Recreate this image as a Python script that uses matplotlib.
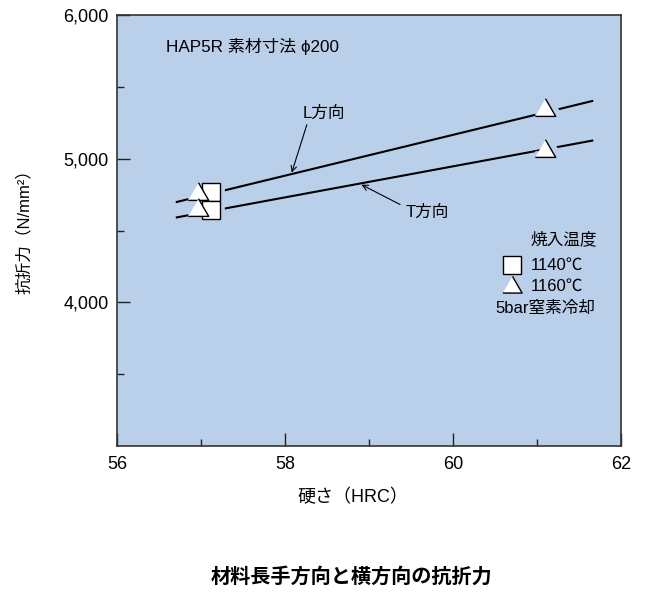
import matplotlib
matplotlib.use("Agg")
import matplotlib.pyplot as plt
from matplotlib.ticker import FixedLocator, FuncFormatter

plt.rcParams['font.family'] = ['Liberation Sans', 'Noto Sans CJK JP', 'DejaVu Sans']

# ---- data ----
hrc_1140 = [57.12, 57.12]
str_1140 = [4771, 4646]
hrc_1160 = [56.96, 56.96, 61.1, 61.1]
str_1160 = [4755, 4645, 5340, 5050]
L_line_x = [56.7, 61.67]
L_line_y = [4697, 5403]
T_line_x = [56.7, 61.67]
T_line_y = [4590, 5127]
x_major = [56, 58, 60, 62]
x_minor = [57, 59, 61]
y_major = [4000, 5000, 6000]
y_minor = [3500, 4500, 5500]

BG = '#bacfea'
tri = [(-1, -0.577), (1, -0.577), (0, 1.155)]

fig = plt.figure(figsize=(6.46, 5.94), dpi=100)
ax = fig.add_axes([117/646, 1-446/594, 504/646, 431/594])
ax.set_facecolor(BG)
ax.set_xlim(56, 62)
ax.set_ylim(3000, 6000)

ax.plot(L_line_x, L_line_y, color='black', lw=1.5, zorder=2, solid_capstyle='butt')
ax.plot(T_line_x, T_line_y, color='black', lw=1.5, zorder=2, solid_capstyle='butt')

# halos to cut the lines around the markers
ax.plot(hrc_1140, str_1140, ls='none', marker='s', ms=13.5, mfc=BG, mec=BG, mew=7, zorder=3)
ax.plot(hrc_1160, str_1160, ls='none', marker=tri, ms=17, mfc=BG, mec=BG, mew=9, zorder=3)
ax.plot(hrc_1140, str_1140, ls='none', marker='s', ms=13.5, mfc='white', mec='black', mew=1.0, zorder=4)
ax.plot(hrc_1160, str_1160, ls='none', marker=tri, ms=17, mfc='white', mec='black', mew=1.0, zorder=5)

ax.xaxis.set_major_locator(FixedLocator(x_major))
ax.xaxis.set_minor_locator(FixedLocator(x_minor))
ax.yaxis.set_major_locator(FixedLocator(y_major))
ax.yaxis.set_minor_locator(FixedLocator(y_minor))
ax.yaxis.set_major_formatter(FuncFormatter(lambda v, p: f"{int(v):,}"))
ax.tick_params(which='major', direction='in', length=9.5, width=1.0, labelsize=13, color='#222222', pad=6)
ax.tick_params(which='minor', direction='in', length=5, width=1.0, color='#222222')
ax.tick_params(axis='x', which='major', pad=7)
ax.tick_params(top=False, right=False)
for s in ax.spines.values():
    s.set_color('#333333')
    s.set_linewidth(1.2)

FS = 12
ax.text(56.58, 5778, "HAP5R 素材寸法 ϕ200", fontsize=12.3, va='center', ha='left')

ax.text(58.46, 5319, "L方向", fontsize=FS, ha='center', va='center')
ax.annotate("", xy=(58.08, 4903), xytext=(58.26, 5236),
            arrowprops=dict(arrowstyle='->', color='black', lw=0.8, shrinkA=0, shrinkB=0))
ax.text(59.69, 4625, "T方向", fontsize=FS, ha='center', va='center')
ax.annotate("", xy=(58.91, 4819), xytext=(59.37, 4681),
            arrowprops=dict(arrowstyle='->', color='black', lw=0.8, shrinkA=0, shrinkB=0))

# legend block
ax.text(60.92, 4440, "焼入温度", fontsize=FS, ha='left', va='center')
ax.plot([60.70], [4260], ls='none', marker='s', ms=13, mfc='white', mec='black', mew=1.0)
ax.text(60.92, 4260, "1140℃", fontsize=FS, ha='left', va='center')
ax.plot([60.70], [4105], ls='none', marker=tri, ms=16, mfc='white', mec='black', mew=1.0)
ax.text(60.92, 4111, "1160℃", fontsize=FS, ha='left', va='center')
ax.text(60.51, 3955, "5bar窒素冷却", fontsize=FS, ha='left', va='center')

fig.text(353/646, 1-498/594, "硬さ（HRC）", fontsize=13, ha='center', va='center')
fig.text(24/646, 1-227/594, "抗折力（N/mm²）", fontsize=12, ha='center', va='center', rotation=90)
fig.text(352/646, 1-577/594, "材料長手方向と横方向の抗折力", fontsize=14.5, ha='center', va='center',
         fontweight='bold')

fig.savefig("out.png", dpi=100)
